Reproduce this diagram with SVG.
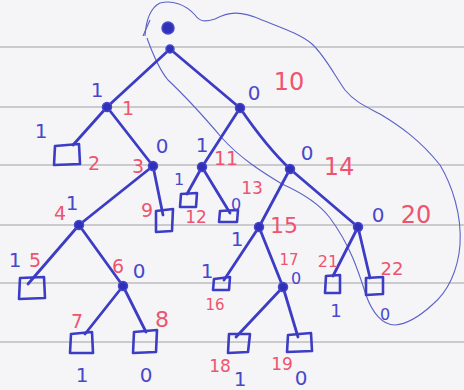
<svg xmlns="http://www.w3.org/2000/svg" width="464" height="390" viewBox="0 0 464 390">
<style>
.rule{stroke:#a2a2a6;stroke-width:1.1;fill:none}
.edge{stroke:#3c3cc4;stroke-width:2.8;fill:none;stroke-linecap:round}
.leaf{stroke:#3c3cc4;stroke-width:2.6;fill:none;stroke-linejoin:round}
.node{fill:#3030b8;stroke:#4848cc;stroke-width:1.5}
.lasso{stroke:#5a62c8;stroke-width:1.1;fill:none}
.v{font-family:"DejaVu Sans",sans-serif;fill:#4848cc;font-size:20px;text-anchor:middle}
.r{font-family:"DejaVu Sans",sans-serif;fill:#ee5470;font-size:19px;text-anchor:middle}
</style>
<rect width="464" height="390" fill="#f5f5f7"/>
<g id="paper">
<line class="rule" x1="0" y1="47" x2="464" y2="47"/>
<line class="rule" x1="0" y1="107" x2="464" y2="107"/>
<line class="rule" x1="0" y1="165" x2="464" y2="165"/>
<line class="rule" x1="0" y1="225" x2="464" y2="225"/>
<line class="rule" x1="0" y1="283" x2="464" y2="283"/>
<line class="rule" x1="0" y1="342" x2="464" y2="342"/>
</g>
<g id="lasso">
<path class="lasso" d="M145,36 C146,20 150,8 160,3 C172,0 185,4 195,15 C200,22 205,22 215,19 C228,12 240,10 262,20 C282,28 300,34 312,44 C325,56 335,76 345,90 C355,102 365,106 380,114 C400,126 420,140 440,165 C452,185 462,215 460,245 C458,270 448,292 432,305 C420,316 408,324 395,325 C382,325 372,312 366,295 C358,270 350,245 330,218 C318,202 300,192 282,184 C262,172 240,158 222,138 C205,118 185,96 168,80 C158,68 152,52 147,38"/>
<path class="lasso" d="M150,20 L143,36"/>
</g>
<g id="connectors">
<line class="edge" x1="170" y1="49" x2="107" y2="107"/>
<line class="edge" x1="170" y1="49" x2="240" y2="108"/>
<line class="edge" x1="107" y1="107" x2="73" y2="145"/>
<line class="edge" x1="107" y1="107" x2="153" y2="166"/>
<line class="edge" x1="153" y1="166" x2="79" y2="225"/>
<line class="edge" x1="153" y1="166" x2="163" y2="215"/>
<line class="edge" x1="79" y1="225" x2="28" y2="284"/>
<line class="edge" x1="79" y1="225" x2="123" y2="286"/>
<line class="edge" x1="123" y1="286" x2="85" y2="334"/>
<line class="edge" x1="123" y1="286" x2="146" y2="332"/>
<line class="edge" x1="240" y1="108" x2="202" y2="167"/>
<path class="edge" d="M240,108 C255,130 270,150 290,169"/>
<line class="edge" x1="202" y1="167" x2="187" y2="194"/>
<line class="edge" x1="202" y1="167" x2="230" y2="213"/>
<line class="edge" x1="290" y1="169" x2="259" y2="227"/>
<line class="edge" x1="290" y1="169" x2="358" y2="227"/>
<line class="edge" x1="259" y1="227" x2="224" y2="280"/>
<line class="edge" x1="259" y1="227" x2="283" y2="287"/>
<line class="edge" x1="283" y1="287" x2="236" y2="337"/>
<line class="edge" x1="283" y1="287" x2="298" y2="337"/>
<line class="edge" x1="358" y1="227" x2="333" y2="276"/>
<line class="edge" x1="358" y1="227" x2="370" y2="278"/>
</g>
<g id="root"><circle class="node" cx="168" cy="28" r="6"/></g>
<g id="n0"><circle class="node" cx="170" cy="49" r="4"/></g>
<g id="n1"><circle class="node" cx="107" cy="107" r="4.5"/><text class="v" x="97" y="97">1</text><text class="r" x="128" y="115">1</text></g>
<g id="n10"><circle class="node" cx="240" cy="108" r="4.5"/><text class="v" x="254" y="100">0</text><text class="r" x="289" y="90" style="font-size:24px">10</text></g>
<g id="n2"><path class="leaf" d="M55,146 L79,144 L80,164 L54,165 Z"/><text class="v" x="41" y="138">1</text><text class="r" x="94" y="170">2</text></g>
<g id="n3"><circle class="node" cx="153" cy="166" r="4.5"/><text class="v" x="162" y="153">0</text><text class="r" x="138" y="173">3</text></g>
<g id="n9"><path class="leaf" d="M156,211 L173,209 L172,231 L156,232 Z"/><text class="r" x="147" y="217">9</text></g>
<g id="n4"><circle class="node" cx="79" cy="225" r="4.5"/><text class="v" x="72" y="210">1</text><text class="r" x="60" y="220">4</text></g>
<g id="n5"><path class="leaf" d="M20,278 L44,277 L45,298 L19,299 Z"/><text class="v" x="15" y="267">1</text><text class="r" x="35" y="267">5</text></g>
<g id="n6"><circle class="node" cx="123" cy="286" r="4.5"/><text class="r" x="118" y="273">6</text><text class="v" x="139" y="278">0</text></g>
<g id="n7"><path class="leaf" d="M71,334 L92,332 L93,353 L70,353 Z"/><text class="r" x="77" y="328">7</text><text class="v" x="82" y="382">1</text></g>
<g id="n8"><path class="leaf" d="M134,332 L157,330 L156,352 L133,353 Z"/><text class="r" x="162" y="327" style="font-size:22px">8</text><text class="v" x="146" y="382">0</text></g>
<g id="n11"><circle class="node" cx="202" cy="167" r="4.5"/><text class="v" x="202" y="152">1</text><text class="r" x="226" y="165">11</text></g>
<g id="n12"><path class="leaf" d="M181,194 L197,193 L196,207 L180,207 Z"/><text class="v" x="179" y="185" style="font-size:16px">1</text><text class="r" x="196" y="223" style="font-size:17px">12</text></g>
<g id="n13"><path class="leaf" d="M220,211 L238,210 L237,222 L219,222 Z"/><text class="v" x="236" y="210" style="font-size:16px">0</text><text class="r" x="252" y="194" style="font-size:17px">13</text></g>
<g id="n14"><circle class="node" cx="290" cy="169" r="4.5"/><text class="v" x="307" y="160">0</text><text class="r" x="339" y="175" style="font-size:24px">14</text></g>
<g id="n15"><circle class="node" cx="259" cy="227" r="4.5"/><text class="v" x="237" y="246">1</text><text class="r" x="284" y="233" style="font-size:22px">15</text></g>
<g id="n16"><path class="leaf" d="M214,279 L230,277 L229,290 L213,290 Z"/><text class="v" x="207" y="278">1</text><text class="r" x="215" y="310" style="font-size:15px">16</text></g>
<g id="n17"><circle class="node" cx="283" cy="287" r="4.5"/><text class="r" x="289" y="265" style="font-size:15px">17</text><text class="v" x="296" y="284" style="font-size:16px">0</text></g>
<g id="n18"><path class="leaf" d="M229,334 L250,334 L248,352 L228,353 Z"/><text class="r" x="220" y="372" style="font-size:17px">18</text><text class="v" x="240" y="386">1</text></g>
<g id="n19"><path class="leaf" d="M288,335 L311,333 L312,351 L287,352 Z"/><text class="r" x="282" y="370" style="font-size:17px">19</text><text class="v" x="301" y="385">0</text></g>
<g id="n20"><circle class="node" cx="358" cy="227" r="4.5"/><text class="v" x="378" y="222">0</text><text class="r" x="416" y="223" style="font-size:24px">20</text></g>
<g id="n21"><path class="leaf" d="M326,276 L340,275 L340,293 L325,293 Z"/><text class="r" x="328" y="267" style="font-size:16px">21</text><text class="v" x="336" y="317" style="font-size:18px">1</text></g>
<g id="n22"><path class="leaf" d="M366,278 L383,277 L383,294 L366,295 Z"/><text class="r" x="392" y="275" style="font-size:18px">22</text><text class="v" x="385" y="320" style="font-size:16px">0</text></g>
</svg>
